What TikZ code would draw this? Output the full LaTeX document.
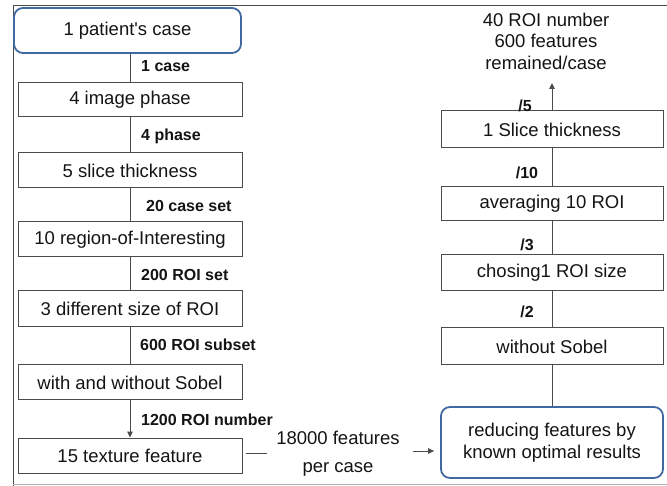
\documentclass[tikz,border=0pt]{standalone}
\usepackage{fontspec}
\setmainfont{Liberation Sans}
\usetikzlibrary{arrows.meta}
\definecolor{boxblue}{RGB}{66,104,160}
\definecolor{lineg}{RGB}{75,75,75}
\definecolor{txt}{RGB}{20,20,20}
\begin{document}
\begin{tikzpicture}[x=1pt,y=-1pt,
  every node/.style={text=txt},
  plainbox/.style={draw=lineg, line width=1pt, inner sep=0pt, font=\fontsize{18.5}{22}\selectfont},
  bluebox/.style={draw=boxblue, line width=1.8pt, rounded corners=9pt, inner sep=0pt, font=\fontsize{18.5}{22}\selectfont},
  lab/.style={font=\bfseries\fontsize{16}{19}\selectfont, inner sep=0pt},
  conn/.style={draw=lineg, line width=1pt},
  arr/.style={conn, -{Triangle[length=6pt,width=5.5pt]}}
]
\useasboundingbox (0,0) rectangle (667,486);
% frame
\draw[draw=lineg, line width=1pt] (13,486) -- (13,6) -- (667,6);
\draw[draw=black!30, line width=1pt] (13,484) -- (667,484);

% left column
\node[bluebox, minimum width=227pt, minimum height=45pt] (patient) at (127.5,30.5) {1 patient\textquotesingle s case};
\node[plainbox, minimum width=224pt, minimum height=34pt] (image) at (130,100) {4 image phase};
\node[plainbox, minimum width=224pt, minimum height=35pt] (slice) at (130,170.5) {5 slice thickness};
\node[plainbox, minimum width=224pt, minimum height=35pt] (region) at (130,239.5) {10 region-of-Interesting};
\node[plainbox, minimum width=224pt, minimum height=36pt] (size) at (130,309) {3 different size of ROI};
\node[plainbox, minimum width=224pt, minimum height=35pt] (sobel) at (130,382.5) {with and without Sobel};
\node[plainbox, minimum width=224pt, minimum height=35pt] (texture) at (130,455.5) {15 texture feature};

\draw[conn] (patient.south -| image.north) -- (image.north);
\draw[conn] (image) -- (slice);
\draw[conn] (slice) -- (region);
\draw[conn] (region) -- (size);
\draw[conn] (size) -- (sobel);
\draw[arr] (sobel) -- (texture);

\node[lab, anchor=west] (l1) at (141,66) {1 case};
\node[lab, anchor=west] (l2) at (141,136) {4 phase};
\node[lab, anchor=west] (l3) at (146,206) {20 case set};
\node[lab, anchor=west] (l4) at (141,275) {200 ROI set};
\node[lab, anchor=west] (l5) at (140,345) {600 ROI subset};
\node[lab, anchor=west] (l6) at (141,420) {1200 ROI number};

% middle text
\node[inner sep=0pt, font=\fontsize{18.5}{28}\selectfont, align=center] (feat) at (338,454) {18000 features\\per case};

% right column
\node[bluebox, minimum width=222pt, minimum height=71pt, align=center] (reduce) at (552,442.5) {reducing features by\\known optimal results};
\node[plainbox, minimum width=222pt, minimum height=37pt] (without) at (552,346.5) {without Sobel};
\node[plainbox, minimum width=222pt, minimum height=36pt] (chose) at (552,273) {chosing1 ROI size};
\node[plainbox, minimum width=222pt, minimum height=34pt] (avg) at (552,204) {averaging 10 ROI};
\node[plainbox, minimum width=222pt, minimum height=37pt] (thick) at (552,129.5) {1 Slice thickness};

\draw[conn] (reduce) -- (without);
\draw[conn] (without) -- (chose);
\draw[conn] (chose) -- (avg);
\draw[conn] (avg) -- (thick);
\coordinate (top) at (552,83);
\draw[arr] (thick.north) -- (top);

\node[lab] (r1) at (525,106) {/5};
\node[lab] (r2) at (527,173) {/10};
\node[lab] (r3) at (527,245) {/3};
\node[lab] (r4) at (527,312) {/2};

\node[inner sep=0pt, font=\fontsize{18.5}{21.5}\selectfont, align=center] (res) at (546,41) {40 ROI number\\600 features\\remained/case};

\draw[conn, shorten <=3pt, shorten >=9pt] (texture.east |- 0,453) -- (feat.west |- 0,453);
\draw[arr, shorten <=13pt, shorten >=6pt] (feat.east |- 0,451) -- (reduce.west |- 0,451);
\end{tikzpicture}
\end{document}
